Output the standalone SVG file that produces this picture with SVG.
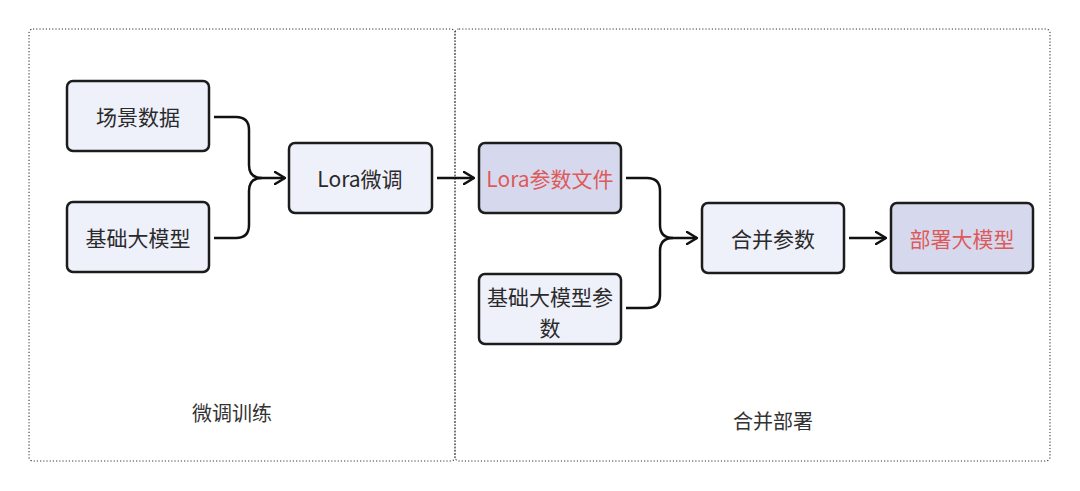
<svg xmlns="http://www.w3.org/2000/svg" width="1080" height="491" viewBox="0 0 1080 491">
<defs>
<style>
.container{fill:none;stroke:#333;stroke-width:1.1;stroke-dasharray:1.2 2}
.box{fill:#eef0fa;stroke:#1c1c1c;stroke-width:2.5}
.box.dark{fill:#d6d9ee}
.lbl{font-family:"Noto Sans CJK SC","Noto Sans",sans-serif;font-size:21px;fill:#2a2a2a;text-anchor:middle;dominant-baseline:central}
.lbl.red{fill:#dd5a5a}
.grp{font-family:"Noto Sans CJK SC","Noto Sans",sans-serif;font-size:20px;fill:#333;text-anchor:middle;dominant-baseline:central}
.conn{fill:none;stroke:#111;stroke-width:2.5;stroke-linejoin:round}
</style>
<marker id="arr" viewBox="0 0 12 14" refX="11" refY="7" markerWidth="12" markerHeight="14" markerUnits="userSpaceOnUse" orient="auto">
<path d="M1,1 L11,7 L1,13" fill="none" stroke="#111" stroke-width="2.5" stroke-linejoin="round" stroke-linecap="round"/>
</marker>
</defs>
<rect width="1080" height="491" fill="#ffffff"/>
<g id="group-train">
<rect class="container" x="29" y="29" width="426" height="432" rx="4"/>
<text class="grp" x="232" y="412">微调训练</text>
</g>
<g id="group-deploy">
<rect class="container" x="455" y="29" width="595" height="432" rx="4"/>
<text class="grp" x="773" y="420">合并部署</text>
</g>
<g id="connectors">
<path class="conn" d="M214,117 H236 Q249,117 249,130 V165 Q249,178 262,178 H285" marker-end="url(#arr)"/>
<path class="conn" d="M214,238 H236 Q249,238 249,225 V191 Q249,178 262,178"/>
<path class="conn" d="M437,178 H474" marker-end="url(#arr)"/>
<path class="conn" d="M626,178 H647 Q660,178 660,191 V225 Q660,238 673,238 H697" marker-end="url(#arr)"/>
<path class="conn" d="M626,308 H647 Q660,308 660,295 V251 Q660,238 673,238"/>
<path class="conn" d="M849,238 H886" marker-end="url(#arr)"/>
</g>
<g id="node-scene-data">
<rect class="box" x="67" y="81" width="142" height="70" rx="6"/>
<text class="lbl" x="138" y="116">场景数据</text>
</g>
<g id="node-base-model">
<rect class="box" x="67" y="202" width="142" height="70" rx="6"/>
<text class="lbl" x="138" y="237">基础大模型</text>
</g>
<g id="node-lora-finetune">
<rect class="box" x="289" y="143" width="143" height="70" rx="6"/>
<text class="lbl" x="360" y="178">Lora微调</text>
</g>
<g id="node-lora-params">
<rect class="box dark" x="479" y="143" width="142" height="70" rx="6"/>
<text class="lbl red" x="550" y="178">Lora参数文件</text>
</g>
<g id="node-base-params">
<rect class="box" x="479" y="274" width="142" height="70" rx="6"/>
<text class="lbl" x="550" y="296">基础大模型参</text>
<text class="lbl" x="550" y="327">数</text>
</g>
<g id="node-merge">
<rect class="box" x="702" y="203" width="142" height="70" rx="6"/>
<text class="lbl" x="773" y="238">合并参数</text>
</g>
<g id="node-deploy">
<rect class="box dark" x="891" y="203" width="142" height="70" rx="6"/>
<text class="lbl red" x="962" y="238">部署大模型</text>
</g>
</svg>
